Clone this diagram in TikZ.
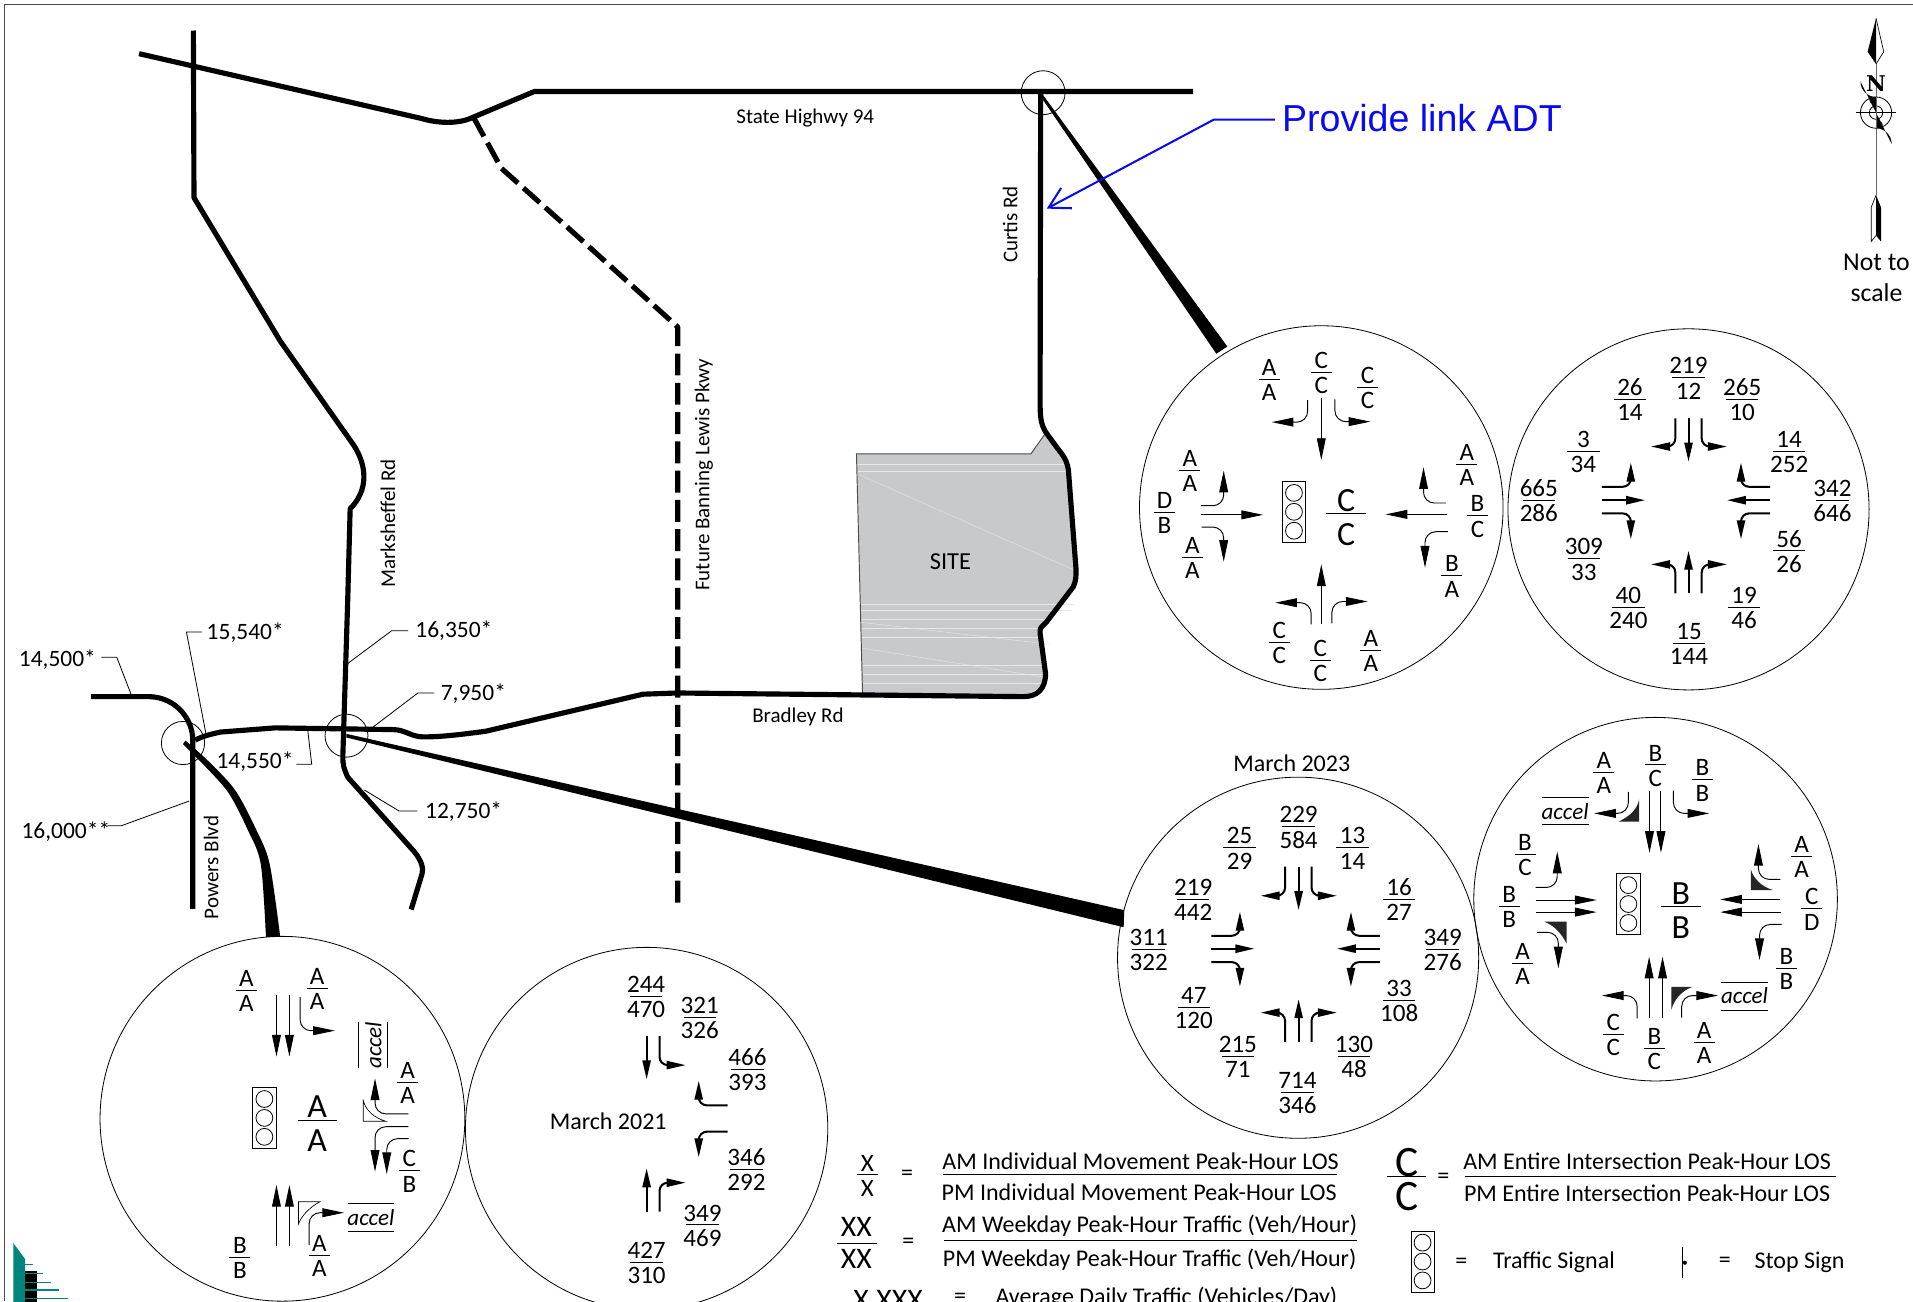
\documentclass[tikz,border=0pt]{standalone}
\usepackage{fontspec}
\usepackage{array}
\setmainfont{Carlito}
\newfontfamily\lib{Liberation Sans}
\newfontfamily\nfont{DejaVu Serif}
\usetikzlibrary{arrows.meta}
\newcounter{lab}
\definecolor{sitegray}{HTML}{C8C9CB}
\definecolor{teal2}{HTML}{00857C}
\definecolor{linkblue}{HTML}{0A0AF0}
\tikzset{
  x=0.9pt,y=-0.9pt,
  road/.style={line width=3.8pt,line join=round},
  leader/.style={line width=0.6pt,line join=round},
  circ/.style={line width=0.6pt},
  thin arrow/.style={line width=0.7pt,rounded corners=8pt,-{Triangle[length=16pt,width=6.5pt]}},
  thick arrow/.style={line width=1.5pt,rounded corners=6pt,-{Triangle[length=14pt,width=6pt]}},
  txt/.style={inner sep=0pt,yshift=-1.2pt,font=\fontsize{15.5}{18}\selectfont},
  frc/.style={inner sep=0pt,font=\fontsize{18.5}{20}\selectfont},
  eqs/.style={inner sep=0pt,yshift=-1.2pt,font=\fontsize{17.3}{20}\selectfont},
  leg/.style={inner sep=0pt,font=\fontsize{17.7}{20}\selectfont},
  wedge/.style={fill=black!85,draw=none},
  owedge/.style={fill=white,draw=black,line width=0.5pt},
  rulel/.style={line width=0.7pt},
}
\newcommand\fracbox[3]{{\renewcommand\arraystretch{0}\setlength\tabcolsep{0pt}\setlength\arrayrulewidth{0.6pt}%
  \begin{tabular}{c}\rule[-2.5pt]{0pt}{15.5pt}\makebox[#1]{#2}\\\hline\rule{0pt}{15.5pt}\makebox[#1]{#3}\end{tabular}}}
\newcommand\fl[4]{\stepcounter{lab}\node[frc] (lab\thelab) at (#1,#2) {\fracbox{15.5pt}{#3}{#4}};}
\newcommand\fn[4]{\stepcounter{lab}\node[frc] (lab\thelab) at (#1,#2) {\fracbox{24pt}{#3}{#4}};}
\newcommand\lb[3]{\stepcounter{lab}\node[txt] (lab\thelab) at (#1,#2) {#3};}
\newcommand\lgd[3]{\stepcounter{lab}\node[leg] (lab\thelab) at (#1,#2) {#3};}
\newcommand\bigfr[6]{% x y ruleW offset top bottom
  \stepcounter{lab}\node[inner sep=0pt,font=\fontsize{25}{25}\selectfont] (lab\thelab) at (#1,#2-#4) {#5};
  \stepcounter{lab}\node[inner sep=0pt,font=\fontsize{25}{25}\selectfont] (lab\thelab) at (#1,#2+#4+6) {#6};
  \draw[rulel] (#1-#3/2,#2) -- (#1+#3/2,#2);}
\newcommand\signal[2]{%
  \draw[line width=0.6pt] (#1-9.5,#2-25) rectangle (#1+9.5,#2+25);
  \foreach \dy in {-15.5,0,15.5} \draw[line width=0.6pt] (#1,#2+\dy) circle (6.9);}
\newcommand\accelh[5]{% cx cy x-half ytop ybot
  \stepcounter{lab}\node[inner sep=0pt,font=\fontsize{17}{20}\selectfont\itshape] (lab\thelab) at (#1,#2) {accel};
  \draw[rulel] (#1-#3,#4) -- (#1+#3,#4); \draw[rulel] (#1-#3,#5) -- (#1+#3,#5);}
\newcommand\arrA[1]{\draw[thin arrow] #1;}
\newcommand\arrB[1]{\draw[thick arrow] #1;}
\begin{document}
\begin{tikzpicture}
\clip (0,0) rectangle (1568,1066.4);
\fill[white] (0,0) rectangle (1568,1066.4);
% frame
\draw[line width=1pt,black!70] (1568,3.5) -- (3.5,3.5) -- (3.5,1066.4);
% site
\fill[sitegray] (702,372) -- (845,372) -- (857,355) -- (871.5,374) -- (875.7,385) -- (882,467) -- (880,481) -- (858,509.5) -- (852.5,519) -- (857,552) -- (854,563) -- (838.7,571) -- (707,569) -- cycle;
\foreach \a/\b/\c/\d in {703/381/872/381,703/386/874/386,705/495/880/495,706/500/878/500,706/508/860/508,706/515/855/515,706/522/852/522,706/545/855/545,706/553/855/553,706/560/855/560}
  \draw[white!55!sitegray,line width=0.5pt] (\a,\b) -- (\c,\d);
\draw[white!50!sitegray,line width=0.35pt] (704,389) -- (880,467);
\draw[white!50!sitegray,line width=0.35pt] (705,510) -- (860,528);
\draw[white!50!sitegray,line width=0.35pt] (705,531) -- (856,555);
\draw[line width=0.7pt,black!70] (707,569) -- (702,372) -- (845,372) -- (857,355);
\node[inner sep=0pt,font=\fontsize{18}{20}\selectfont] (site) at (779,460) {SITE};
% roads
\draw[road] (114,44) -- (345,97) .. controls (362,102) and (378,101) .. (388,96) -- (438,75) -- (978,75);
\draw[road] (158.5,25) -- (159,162) -- (230,280) -- (290,365) .. controls (301,382) and (302,402) .. (287,417) -- (285,492) -- (281,620) .. controls (281,628) and (282,630) .. (285,637) -- (339.5,698) .. controls (346,706) and (347,712) .. (346,716) -- (337,745.5);
\draw[road] (160,606.6) .. controls (167,603) and (174,601.5) .. (181,600) -- (225.5,596.6) -- (322,598) .. controls (332,598) and (337,604) .. (347,604) .. controls (365,604) and (385,601) .. (398,599.4) -- (459,585) -- (527,569) -- (555,568) -- (838.7,571) .. controls (850,571) and (857,565) .. (857,552) -- (852.5,519) .. controls (852,514) and (854,514) .. (858,509.5) -- (879.7,481) .. controls (882,476) and (882,472) .. (882,467) -- (875.7,385) .. controls (874,375) and (870,372) .. (865,365) -- (857,354) .. controls (853,347) and (852.5,342) .. (852.5,328) -- (853,75);
\draw[road,dash pattern=on 16.2pt off 5.4pt] (388,96) -- (411,138) -- (467,188) -- (555.5,268) -- (555.5,745);
\draw[road] (74.7,571) -- (123,571) .. controls (145,572) and (158,590) .. (158,606.6) -- (158,745);
% wedges
\fill plot[smooth] coordinates {(152,607) (172,625) (193,648) (210,680) (221,708) (229.7,768)} -- plot[smooth] coordinates {(218,768) (213.7,708) (203,680) (187.4,650) (168,628) (150,610)} -- cycle;
\fill (284,601.5) -- (921.5,746) -- (921,760) -- (284,604.5) -- cycle;
\fill (855,78) -- (1006,284) -- (997,290) -- (855,82) -- cycle;
% small circles
\draw[circ] (150,609) circle (17.7);
\draw[circ] (284,603) circle (17.6);
\draw[circ] (855,76) circle (18);
% road names
\lb{660}{95}{State Highwy 94}
\stepcounter{lab}\node[inner sep=0pt,font=\fontsize{15.5}{18}\selectfont,rotate=90] (lab\thelab) at (828,184) {Curtis Rd};
\stepcounter{lab}\node[inner sep=0pt,font=\fontsize{15.5}{18}\selectfont,rotate=90] (lab\thelab) at (318,429) {Marksheffel Rd};
\stepcounter{lab}\node[inner sep=0pt,font=\fontsize{15.5}{18}\selectfont,rotate=90] (lab\thelab) at (577,389) {Future Banning Lewis Pkwy};
\lb{654}{586}{Bradley Rd}
\stepcounter{lab}\node[inner sep=0pt,font=\fontsize{15.5}{18}\selectfont,rotate=90] (lab\thelab) at (173,711) {Powers Blvd};
% leaders
\node[eqs] (a1) at (47,539) {14,500*};
\draw[leader] (83,538.7) -- (95.7,538.7) -- (108,570.6);
\node[eqs] (a2) at (201,517) {15,540*};
\draw[leader] (165.4,518) -- (152.8,518) -- (169,602.5);
\node[eqs] (a3) at (372,516) {16,350*};
\draw[leader] (334.6,517) -- (321,517) -- (284.8,544);
\node[eqs] (a4) at (388,567) {7,950*};
\draw[leader] (356,568) -- (342.5,568) -- (304.4,597);
\node[eqs] (a5) at (209,623) {14,550*};
\draw[leader] (243,626.4) -- (255.5,626.4) -- (252.3,599);
\node[eqs] (a6) at (380,664) {12,750*};
\draw[leader] (342,664.7) -- (327,664.7) -- (298.6,647.5);
\node[eqs] (a7) at (54,680) {16,000**};
\draw[leader] (88,676.8) -- (99.5,676.8) -- (155,656.6);
% blue note
\node[inner sep=0pt,text=linkblue,font=\lib\fontsize{27.7}{30}\selectfont] (note) at (1165.5,97) {Provide link ADT};
\draw[linkblue,line width=1.5pt,-{Straight Barb[length=15pt,width=17pt]}] (1045,98) -- (995,98) -- (858,171);
% north arrow
\fill (1537.7,15) -- (1530.8,42.4) -- (1537.7,52.5) -- cycle;
\draw[line width=0.5pt] (1537.7,15) -- (1544,42.4) -- (1537.7,52.5);
\draw[line width=0.7pt,black!60] (1537.7,52.5) -- (1537.7,160);
\node[inner sep=0pt,font=\nfont\bfseries\fontsize{16}{16}\selectfont] (north) at (1537.7,68.3) {N};
\draw[line width=0.6pt,fill=white] (1537.7,92.3) circle (12.8);
\fill (1537.7,92.3) -- (1537.7,79.5) arc (90:180:12.8) -- cycle;
\fill (1537.7,92.3) -- (1537.7,105.1) arc (270:360:12.8) -- cycle;
\draw[line width=0.6pt,fill=white] (1537.7,92.3) circle (5.5);
\fill (1537.7,92.3) -- (1537.7,86.8) arc (90:180:5.5) -- cycle;
\fill (1537.7,92.3) -- (1537.7,97.8) arc (270:360:5.5) -- cycle;
\draw[line width=0.7pt] (1521,92.3) -- (1554,92.3);
\draw[line width=0.7pt,black!60] (1537.7,80) -- (1537.7,105);
\draw[line width=0.5pt] (1537.7,160) -- (1533.7,170) -- (1533.7,198) -- (1537.7,193);
\fill (1537.7,160) -- (1541.8,170) -- (1541.8,198) -- (1537.7,193) -- cycle;
\node[inner sep=0pt,font=\fontsize{19}{21}\selectfont,align=center] (nts) at (1538,228) {Not to\\[2pt]scale};
% --- circles ---
\draw[circ] (1083,416) circle (149);
\draw[circ] (1384,417.5) circle (148);
\draw[circ] (1064,785) circle (148);
\draw[circ] (1357,737) circle (149);
\draw[circ] (231.5,917) circle (149.5);
\draw[circ] (530,925) circle (148.5);
% C1
\fl{1040.3}{311}{A}{A}\fl{1083}{305}{C}{C}\fl{1121}{317.5}{C}{C}\fl{975.2}{385.3}{A}{A}\fl{954.5}{420}{D}{B}\fl{977.3}{456.8}{A}{A}
\fl{1202.4}{380.3}{A}{A}\fl{1211}{422.7}{B}{C}\fl{1190}{471.9}{B}{A}\fl{1048.6}{526.5}{C}{C}\fl{1082.2}{541}{C}{C}\fl{1123.6}{532.8}{A}{A}
\bigfr{1103.3}{421}{33}{11}{C}{C}
\signal{1060.6}{419.5}
\arrA{(1083,326.5) -- (1083,377)}\arrA{(984.3,422) -- (1035.3,422)}\arrA{(1185.8,421.6) -- (1135.7,421.6)}\arrA{(1083,511.8) -- (1083,462.6)}
\arrA{(1071.8,328) |- (1042.4,346)}\arrA{(1094.2,327.3) |- (1123.2,345.6)}\arrA{(984.3,414.5) -| (1003,385.8)}\arrA{(985,432) -| (1003,460.4)}
\arrA{(1185.4,412.3) -| (1166.8,383)}\arrA{(1186.7,435.8) -| (1168,465.3)}\arrA{(1074.7,511.8) |- (1045.3,494)}\arrA{(1091.7,511) |- (1121,493)}
% C2
\fn{1384}{309.6}{219}{12}\fn{1336}{327.3}{26}{14}\fn{1428}{327.3}{265}{10}\fn{1297.8}{369.7}{3}{34}\fn{1466.5}{369.7}{14}{252}
\fn{1261.3}{410}{665}{286}\fn{1502}{410}{342}{646}\fn{1298.2}{458}{309}{33}\fn{1466.5}{451.6}{56}{26}\fn{1334.7}{497.8}{40}{240}
\fn{1429.6}{497.8}{19}{46}\fn{1384.4}{527.3}{15}{144}
\arrB{(1384,343) -- (1384,378.4)}\arrB{(1373.2,343) |- (1353.3,366)}\arrB{(1394.8,343) |- (1415.5,366)}
\arrB{(1313,410) -- (1348.4,410)}\arrB{(1313,399) -| (1336.7,379.2)}\arrB{(1313,420.8) -| (1336.7,442)}
\arrB{(1450.8,410) -- (1415.5,410)}\arrB{(1450.8,399) -| (1427,379.2)}\arrB{(1450.8,420.8) -| (1427,442)}
\arrB{(1384,486.3) -- (1384,451.4)}\arrB{(1373.2,486.3) |- (1353.3,462.6)}\arrB{(1394.8,486.3) |- (1415.5,462.6)}
% C3
\stepcounter{lab}\node[leg] (lab\thelab) at (1058.8,625.2) {March 2023};
\fn{1064.4}{677.6}{229}{584}\fn{1016}{694.8}{25}{29}\fn{1108.6}{694.8}{13}{14}\fn{978}{737}{219}{442}\fn{1146.8}{737}{16}{27}
\fn{941.5}{778.2}{311}{322}\fn{1182.5}{778.2}{349}{276}\fn{978.5}{825.7}{47}{120}\fn{1146.8}{819.7}{33}{108}\fn{1014.6}{866}{215}{71}
\fn{1109.8}{866}{130}{48}\fn{1063.5}{895.4}{714}{346}
\arrB{(1064.4,710.4) -- (1064.4,746)}\arrB{(1053.3,710.4) |- (1033.3,734.2)}\arrB{(1075,710.4) |- (1095.8,734.2)}
\arrB{(993,777.6) -- (1028.2,777.6)}\arrB{(993,767) -| (1016.3,747.3)}\arrB{(993,788.6) -| (1016.3,808.8)}
\arrB{(1131,777.6) -- (1095.8,777.6)}\arrB{(1131,767) -| (1107.3,747.3)}\arrB{(1131,788.6) -| (1107.3,808.8)}
\arrB{(1064.4,853.9) -- (1064.4,819)}\arrB{(1053.3,853.9) |- (1033.3,830)}\arrB{(1075,853.9) |- (1095.8,830)}
% C4
\fl{1314.7}{633}{A}{A}\fl{1356.8}{627}{B}{C}\fl{1395.4}{639}{B}{B}\fl{1250}{700}{B}{C}\fl{1237}{743}{B}{B}\fl{1248}{789.7}{A}{A}
\fl{1476.6}{701.7}{A}{A}\fl{1485}{744.8}{C}{D}\fl{1464.3}{793.7}{B}{B}\fl{1322.3}{847.8}{C}{C}\fl{1356}{859.3}{B}{C}\fl{1396.7}{854.4}{A}{A}
\accelh{1282.8}{664.8}{19.3}{653.6}{676}
\accelh{1429.9}{816.4}{19.2}{805}{828}
\bigfr{1377.6}{743.2}{33}{11}{B}{B}
\signal{1334.7}{741}
\fill[wedge] (1343.6,655.2) -- (1343.6,673.5) -- (1326.6,673.5) .. controls (1338,668) and (1342,662) .. cycle;
\fill[wedge] (1265.8,755.5) -- (1284,755.5) -- (1284,773.3) .. controls (1280,765) and (1273,758) .. cycle;
\fill[wedge] (1435,712.3) -- (1435,729.5) -- (1453.2,729.5) .. controls (1444,727) and (1437,720) .. cycle;
\fill[wedge] (1370,808.8) -- (1387.4,808.8) .. controls (1378,812) and (1372,820) .. (1370,827.4) -- cycle;
\arrA{(1352,648.4) -- (1352,699)}\arrA{(1361.4,648.4) -- (1361.4,699)}\arrA{(1334.7,649) |- (1306.6,666.7)}\arrA{(1371.6,648) |- (1401,666.7)}
\arrA{(1258.6,737.7) -- (1308.7,737.7)}\arrA{(1258.6,747.6) -- (1308.7,747.6)}\arrA{(1258.6,727.4) -| (1276.4,698)}\arrA{(1259.9,764.2) -| (1277.3,793.7)}
\arrA{(1459.2,737.2) -- (1410,737.2)}\arrA{(1460,747.6) -- (1410,747.6)}\arrA{(1459.2,720.8) -| (1441.3,691.8)}\arrA{(1460.4,757.7) -| (1442.2,786.9)}
\arrA{(1351.7,834.7) -- (1351.7,784.2)}\arrA{(1362.7,834.7) -- (1362.7,784.2)}\arrA{(1341.9,834.7) |- (1313,816)}\arrA{(1378.4,834) |- (1408.2,816)}
% C5
\fl{202}{811.7}{A}{A}\fl{260}{810}{A}{A}\fl{334.2}{887}{A}{A}\fl{335.5}{959.6}{C}{B}\fl{196.7}{1030.6}{B}{B}\fl{261.7}{1028.7}{A}{A}
\bigfr{260}{918}{32}{11}{A}{A}
\signal{216.7}{916.3}
\stepcounter{lab}\node[inner sep=0pt,rotate=90,font=\fontsize{17}{20}\selectfont\itshape] (lab\thelab) at (306,856.8) {accel};
\draw[rulel] (294.2,837.4) -- (294.2,875.7); \draw[rulel] (317.5,837.4) -- (317.5,875.7);
\accelh{304}{997.8}{19}{986.3}{1009.3}
\draw[owedge] (297.8,902.2) -- (297.8,919) -- (316.2,919) .. controls (306,916) and (300,910) .. cycle;
\draw[owedge] (244.6,985) -- (262.2,985) .. controls (253,990) and (247,997) .. (244.6,1003.3) -- cycle;
\arrA{(226.6,815.6) -- (226.6,866)}\arrA{(237.2,815.6) -- (237.2,866)}\arrA{(246,817) |- (274.5,844.8)}
\arrA{(334.7,913) -| (307.4,883.9)}\arrA{(334.7,923.5) -| (307.4,960.4)}\arrA{(335,933.3) -| (317,962.3)}
\arrA{(226.6,1021) -- (226.6,971.3)}\arrA{(237.2,1021) -- (237.2,971.3)}\arrA{(253.4,1020.5) |- (282,994)}
% C6
\fn{529.6}{816.7}{244}{470}\fn{573.6}{834}{321}{326}\fn{612.6}{876.5}{466}{393}\fn{611.8}{958.5}{346}{292}\fn{575.8}{1004}{349}{469}\fn{530}{1034.4}{427}{310}
\stepcounter{lab}\node[leg] (lab\thelab) at (498.5,919.4) {March 2021};
\arrB{(530,849.2) -- (530,884.7)}\arrB{(540.6,849.2) |- (562,873)}\arrB{(596.4,906) -| (572.7,885.8)}\arrB{(596.4,927.6) -| (572.7,948.6)}\arrB{(530,993.2) -- (530,957.6)}\arrB{(540.6,993.2) |- (562,969.4)}
% legend
\fl{710.9}{963}{X}{X}
\lgd{743.4}{963}{=}
\lgd{934.9}{951.7}{AM Individual Movement Peak-Hour LOS}
\lgd{933.7}{977.6}{PM Individual Movement Peak-Hour LOS}
\draw[rulel] (773,963) -- (1096,963);
\stepcounter{lab}\node[inner sep=0pt,font=\fontsize{22}{22}\selectfont] (lab\thelab) at (702,1006) {XX};
\stepcounter{lab}\node[inner sep=0pt,font=\fontsize{22}{22}\selectfont] (lab\thelab) at (702,1032) {XX};
\draw[rulel] (686.3,1019) -- (718.9,1019);
\lgd{744.6}{1019}{=}
\lgd{942.3}{1005}{AM Weekday Peak-Hour Traffic (Veh/Hour)}
\lgd{942.3}{1032.8}{PM Weekday Peak-Hour Traffic (Veh/Hour)}
\draw[rulel] (773.7,1017) -- (1112,1017);
\stepcounter{lab}\node[inner sep=0pt,font=\fontsize{32}{32}\selectfont] (lab\thelab) at (1153,953) {C};
\stepcounter{lab}\node[inner sep=0pt,font=\fontsize{32}{32}\selectfont] (lab\thelab) at (1153,981) {C};
\draw[rulel] (1136.6,964.4) -- (1169,964.4);
\lgd{1183}{965.8}{=}
\lgd{1350}{952}{AM Entire Intersection Peak-Hour LOS}
\lgd{1350}{978}{PM Entire Intersection Peak-Hour LOS}
\draw[rulel] (1200.6,964.4) -- (1504.6,964.4);
\signal{1166}{1034}
\lgd{1197.7}{1035.5}{=}
\lgd{1273.7}{1034.7}{Traffic Signal}
\draw[line width=0.6pt] (1379,1021.8) -- (1379,1047.8);
\fill (1381,1035) circle (1.7);
\lgd{1413.7}{1035}{=}
\lgd{1475}{1035}{Stop Sign}
\stepcounter{lab}\node[inner sep=0pt,font=\fontsize{22}{22}\selectfont] (lab\thelab) at (728,1067) {X,XXX};
\lgd{787}{1064}{=}
\lgd{956}{1064}{Average Daily Traffic (Vehicles/Day)}
% logo
\fill[teal2] (11,1019) -- (20.6,1032) -- (20.6,1067) -- (11,1067) -- cycle;
\fill (20.6,1041.5) rectangle (30.7,1067);
\draw[teal2,line width=0.9pt] (20.6,1036.4) -- (27,1036.4) (20.6,1043.7) -- (35,1043.7) (20.6,1051) -- (41.7,1051) (20.6,1057.4) -- (48.3,1057.4) (20.6,1064) -- (55.8,1064);
\end{tikzpicture}
\end{document}
